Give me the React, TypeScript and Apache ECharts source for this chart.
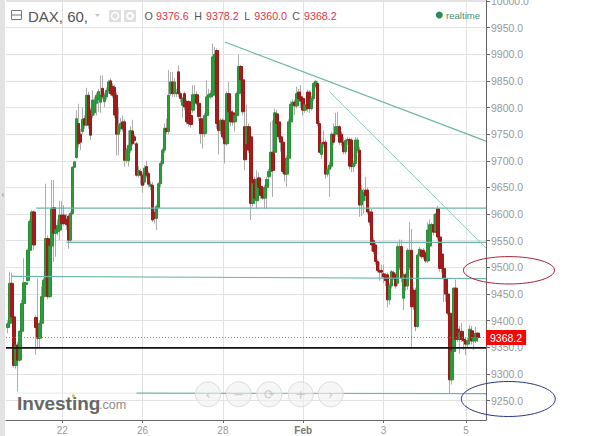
import React, { useEffect, useRef } from "react";
import * as echarts from "echarts";

const SLOT_COUNT = 240;
const tickSlots: Record<number, string> = { 28: "22", 68: "26", 108: "28", 148: "Feb", 188: "3", 229: "5" };

const opens = [
  9387,9395,9470,9407,9316,9354,9326,9380,9432,9468,
  9475,9532,9586,9604,9406,9388,9367,9395,9445,9476,
  9554,9445,9540,9612,9564,9567,9570,9598,9598,9590,
  9596,9551,9601,9688,9706,9770,9750,9755,9779,9767,
  9823,9795,9785,9790,9808,9815,9810,9836,9811,9820,
  9832,9850,9840,9838,9823,9750,9760,9773,9773,9701,
  9700,9720,9756,9745,9732,9673,9680,9673,9660,9689,
  9676,9652,9654,9603,9592,9612,9657,9695,9720,9761,
  9755,9826,9848,9826,9826,9867,9826,9804,9826,9811,
  9811,9785,9795,9815,9824,9808,9779,9770,9751,9785,
  9820,9820,9823,9887,9907,9770,9757,9776,9745,9732,
  9826,9792,9790,9773,9785,9826,9877,9852,9764,9732,
  9764,9745,9620,9665,9625,9668,9652,9648,9630,9650,
  9670,9680,9716,9716,9788,9773,9745,9735,9692,9675,
  9705,9773,9806,9810,9803,9829,9820,9817,9795,9829,
  9829,9798,9817,9840,9845,9770,9712,9735,9735,9675,
  9684,9690,9750,9750,9750,9764,9750,9735,9717,9738,
  9740,9739,9689,9695,9720,9720,9617,9625,9645,9645,
  9604,9604,9550,9542,9511,9494,9494,9488,9486,9486,
  9439,9465,9490,9486,9470,9500,9539,9442,9486,9465,
  9500,9532,9457,9457,9389,9523,9532,9532,9527,9512,
  9540,9570,9580,9568,9610,9557,9525,9498,9479,9450,
  9414,9289,9342,9461,9384,9365,9380,9365,9362,9356,
  9362,9381,9362,9362,9376.6,
];
const closes = [
  9394,9470,9407,9316,9354,9326,9380,9432,9471,9471,
  9532,9586,9604,9542,9387,9367,9395,9445,9476,9554,
  9445,9540,9610,9564,9571,9579,9598,9582,9582,9580,
  9551,9601,9688,9698,9779,9732,9735,9778,9767,9823,
  9767,9748,9814,9814,9823,9830,9823,9820,9823,9832,
  9848,9826,9823,9786,9750,9767,9770,9760,9701,9720,
  9729,9757,9732,9738,9673,9682,9673,9654,9686,9673,
  9656,9656,9589,9592,9614,9657,9695,9720,9761,9755,
  9823,9848,9826,9848,9828,9826,9817,9817,9801,9773,
  9770,9768,9824,9824,9808,9783,9751,9751,9785,9820,
  9824,9826,9895,9900,9770,9757,9776,9745,9732,9826,
  9792,9773,9773,9785,9826,9877,9852,9792,9702,9764,
  9720,9620,9658,9630,9665,9650,9635,9630,9650,9665,
  9680,9716,9682,9790,9770,9745,9735,9680,9675,9705,
  9773,9806,9810,9803,9826,9817,9812,9795,9805,9798,
  9798,9817,9845,9849,9770,9716,9732,9732,9675,9684,
  9692,9750,9735,9764,9764,9735,9735,9717,9738,9740,
  9690,9689,9695,9739,9739,9617,9645,9640,9635,9604,
  9585,9542,9530,9511,9494,9491,9491,9482,9475,9439,
  9465,9492,9480,9465,9539,9539,9480,9486,9465,9532,
  9532,9426,9426,9389,9523,9534,9520,9520,9512,9570,
  9580,9580,9566,9600,9557,9498,9498,9479,9450,9414,
  9289,9342,9461,9365,9365,9378,9365,9362,9356,9362,
  9384,9362,9368,9376,9368.2,
];
const lows = [
  9376,9390,9405,9312,9310,9267,9322,9376,9428,9466,
  9473,9530,9584,9532,9336,9348,9350,9393,9407,9472,
  9440,9443,9530,9510,9520,9560,9551,9575,9578,9570,
  9535,9548,9598,9686,9704,9725,9720,9750,9760,9764,
  9760,9739,9780,9785,9785,9792,9790,9815,9800,9815,
  9826,9822,9818,9780,9710,9710,9755,9755,9689,9695,
  9689,9715,9728,9730,9670,9668,9655,9640,9655,9668,
  9650,9645,9585,9582,9570,9610,9650,9690,9715,9750,
  9750,9822,9820,9820,9820,9820,9810,9781,9795,9768,
  9764,9762,9790,9810,9804,9775,9732,9723,9745,9780,
  9815,9816,9820,9884,9760,9712,9750,9740,9695,9728,
  9785,9765,9766,9755,9780,9820,9848,9785,9682,9725,
  9715,9589,9614,9620,9610,9640,9628,9626,9610,9610,
  9665,9676,9632,9710,9765,9740,9717,9676,9661,9651,
  9700,9770,9795,9786,9798,9810,9800,9785,9790,9792,
  9790,9794,9812,9836,9765,9714,9704,9725,9667,9670,
  9632,9686,9730,9745,9745,9730,9728,9712,9712,9730,
  9684,9679,9679,9690,9715,9595,9596,9600,9625,9600,
  9578,9530,9525,9505,9490,9475,9480,9470,9465,9425,
  9430,9460,9476,9460,9465,9495,9472,9420,9455,9458,
  9495,9347,9420,9380,9386,9520,9516,9515,9508,9508,
  9535,9565,9560,9564,9552,9492,9490,9435,9435,9410,
  9264,9280,9338,9360,9360,9338,9360,9345,9335,9350,
  9358,9355,9345,9358,9360,
];
const highs = [
  9400,9492,9490,9410,9358,9360,9382,9439,9517,9473,
  9535,9590,9607,9607,9410,9479,9400,9464,9480,9657,
  9560,9545,9664,9664,9576,9590,9625,9625,9617,9600,
  9600,9605,9690,9700,9795,9807,9760,9800,9785,9837,
  9830,9800,9832,9820,9828,9835,9860,9860,9828,9838,
  9852,9855,9845,9842,9828,9801,9780,9785,9778,9725,
  9757,9765,9777,9750,9736,9690,9685,9678,9692,9700,
  9680,9662,9660,9610,9618,9660,9700,9724,9770,9779,
  9870,9867,9867,9855,9835,9879,9830,9820,9830,9815,
  9814,9790,9842,9842,9830,9812,9783,9775,9790,9851,
  9835,9832,9920,9914,9911,9775,9780,9780,9750,9830,
  9848,9798,9795,9790,9830,9899,9880,9856,9814,9805,
  9770,9750,9682,9670,9682,9678,9660,9652,9655,9670,
  9685,9773,9776,9798,9796,9778,9750,9740,9696,9710,
  9778,9812,9815,9815,9839,9835,9842,9822,9810,9834,
  9833,9822,9848,9852,9850,9775,9736,9757,9740,9690,
  9698,9755,9770,9790,9792,9767,9755,9745,9742,9745,
  9744,9743,9700,9744,9744,9726,9655,9648,9670,9650,
  9610,9610,9556,9546,9515,9510,9505,9505,9490,9490,
  9470,9495,9494,9490,9545,9552,9552,9490,9490,9536,
  9585,9572,9462,9462,9526,9538,9535,9536,9530,9585,
  9590,9584,9600,9602,9615,9560,9530,9510,9484,9455,
  9418,9345,9462,9477,9425,9390,9395,9370,9368,9368,
  9392,9390,9372,9388,9378.2,
];

const lastPrice = 9368.2;
const upperTrend = [[109, 9923], [239, 9737]];
const lowerTrend = [[161, 9830], [239, 9536]];
const level9611 = [[15, 9611], [239, 9611]];
const level9547 = [[30, 9547], [239, 9547]];
const level9482 = [[3, 9483], [239, 9479]];
const level9263Faint = [[5, 9264], [65, 9264]];
const level9263 = [[65, 9264], [239, 9263]];
const level9349 = [[0, 9349], [239, 9349]];

const categories = Array.from({ length: SLOT_COUNT }, (_, i) => tickSlots[i] ?? String(i));
const isTick = (i: number) => tickSlots[i] !== undefined;
const FONT = "'Liberation Sans', Arial, sans-serif";
const UP = "#2b9e3c";
const UP_EDGE = "#2a8f38";
const DOWN = "#a31d1d";
const DOWN_EDGE = "#9a1a1a";
const TEAL = "#6db5a6";

const seg = (name: string, data: number[][], color: string, width = 1, z = 4) => ({
  name, type: "line", data, showSymbol: false, symbol: "none", silent: true, z,
  lineStyle: { color, width }, itemStyle: { color },
});

const hdrText = (x: number, text: string, fill: string, y = 16, fontSize = 10.7, extra: any = {}) => ({
  type: "text", x, y, z: 20, silent: true,
  style: { text, fill, fontSize, fontFamily: FONT, verticalAlign: "middle", ...extra },
});

const navCenters = [208, 238.7, 269.3, 300.7, 330.7];
const navGlyphs = ["‹", "−", "⟳", "+", "›"];

export default function App() {
  const ref = useRef<HTMLDivElement>(null);
  useEffect(() => {
    if (!ref.current) return;
    const chart = echarts.init(ref.current, undefined, { renderer: "svg" });
    const emptySlot = ["-", "-", "-", "-"];
    const wickData = [emptySlot, ...opens.map((_, i) => [opens[i], closes[i], lows[i], highs[i]])];
    const bodyData = [emptySlot, ...opens.map((_, i) => [
      opens[i], closes[i],
      Math.min(opens[i], closes[i]), Math.max(opens[i], closes[i]),
    ])];
    const grey = "#adadad";
    chart.setOption({
      animation: false,
      backgroundColor: "#fff",
      textStyle: { fontFamily: FONT },
      grid: { left: 6, right: 119, top: 0, bottom: 16, containLabel: false, outerBoundsMode: "none" },
      xAxis: {
        type: "category",
        data: categories,
        boundaryGap: false,
        axisLine: { show: true, lineStyle: { color: "#666", width: 1 } },
        axisTick: { show: true, length: 3, interval: (i: number) => isTick(i), lineStyle: { color: "#666" } },
        splitLine: { show: true, interval: (i: number) => isTick(i), lineStyle: { color: "#e2e2e2", width: 1 } },
        axisLabel: {
          interval: (i: number) => isTick(i),
          color: "#999",
          fontSize: 10,
          margin: 5,
          fontFamily: FONT,
          formatter: (v: string) => (v === "Feb" ? "{b|Feb}" : v),
          rich: { b: { fontSize: 10, fontWeight: "bold", color: "#777", fontFamily: FONT } },
        },
      },
      yAxis: {
        type: "value",
        position: "right",
        min: 9213.5,
        max: 10001.8,
        splitNumber: 16,
        axisLine: { show: true, lineStyle: { color: "#666", width: 1 } },
        axisTick: { show: true, length: 4, lineStyle: { color: "#666" } },
        splitLine: { show: true, lineStyle: { color: "#e2e2e2", width: 1 } },
        axisLabel: {
          color: "#999", fontSize: 10.5, margin: 5, fontFamily: FONT,
          showMinLabel: false, showMaxLabel: false,
          formatter: (v: number) => v.toFixed(1),
        },
      },
      series: [
        {
          name: "DAX range", type: "candlestick", data: wickData, barWidth: 1, z: 2, silent: true,
          itemStyle: { color: grey, color0: grey, borderColor: grey, borderColor0: grey, borderWidth: 1 },
        },
        {
          name: "DAX", type: "candlestick", data: bodyData, barWidth: 3, z: 3, silent: true,
          itemStyle: { color: UP, color0: DOWN, borderColor: UP_EDGE, borderColor0: DOWN_EDGE, borderWidth: 1 },
        },
        seg("upper trend", upperTrend, TEAL, 1.2),
        seg("lower trend", lowerTrend, "#8ccabd", 1),
        seg("level 9611", level9611, TEAL, 1.2),
        seg("level 9547", level9547, TEAL, 1.2),
        seg("level 9482", level9482, TEAL, 1.2),
        seg("level 9263 faint", level9263Faint, "#dcece8", 1),
        seg("level 9263", level9263, TEAL, 1.2),
        seg("level 9349", level9349, "#111", 1.8, 5),
        {
          name: "last", type: "line", showSymbol: false, symbol: "none", silent: true, z: 6,
          data: [[0, lastPrice], [239, lastPrice]],
          lineStyle: { color: "#ee5555", width: 1, type: [1, 2] },
          endLabel: {
            show: true, distance: 0, formatter: () => lastPrice.toFixed(1),
            color: "#fff", backgroundColor: "#f00a0a", fontSize: 10.5, fontFamily: FONT,
            padding: [2, 4, 2, 4],
          },
        },
      ],
      graphic: [
        { type: "rect", z: 20, silent: true, shape: { x: 0, y: 0, width: 5, height: 436 }, style: { fill: "#e3e3e3" } },
        { type: "polygon", z: 21, silent: true, shape: { points: [[3.5, 192.5], [3.5, 197.5], [1.5, 195]] }, style: { fill: "#aaa" } },
        // header
        { type: "rect", z: 20, silent: true, shape: { x: 11.5, y: 10.5, width: 10, height: 9 }, style: { fill: "none", stroke: "#777", lineWidth: 1 } },
        { type: "line", z: 20, silent: true, shape: { x1: 11.5, y1: 15, x2: 21.5, y2: 15 }, style: { stroke: "#777", lineWidth: 1 } },
        hdrText(28, "DAX, 60,", "#555", 16, 15),
        { type: "polygon", z: 20, silent: true, shape: { points: [[95, 14], [100, 14], [97.5, 17]] }, style: { fill: "#c4c4c4" } },
        { type: "rect", z: 20, silent: true, shape: { x: 109, y: 10, width: 12, height: 12 }, style: { fill: "#e0e0e0" } },
        { type: "circle", z: 21, silent: true, shape: { cx: 115, cy: 16, r: 3.5 }, style: { fill: "#e0e0e0", stroke: "#fff", lineWidth: 1.5 } },
        { type: "rect", z: 20, silent: true, shape: { x: 124, y: 10, width: 12, height: 12 }, style: { fill: "#e0e0e0" } },
        { type: "circle", z: 21, silent: true, shape: { cx: 130, cy: 16, r: 3 }, style: { fill: "#e0e0e0", stroke: "#fff", lineWidth: 2 } },
        hdrText(144.5, "O", "#555"),
        hdrText(156, "9376.6", "#e0344a"),
        hdrText(194.3, "H", "#555"),
        hdrText(206, "9378.2", "#e0344a"),
        hdrText(244.3, "L", "#555"),
        hdrText(254.3, "9360.0", "#e0344a"),
        hdrText(292.3, "C", "#555"),
        hdrText(304, "9368.2", "#e0344a"),
        // realtime
        { type: "circle", z: 20, silent: true, shape: { cx: 439.3, cy: 15, r: 3.5 }, style: { fill: "#2e8b57" } },
        hdrText(446, "realtime", "#4a9071", 15, 9.6),
        // annotation ellipses
        { type: "ellipse", z: 22, silent: true, shape: { cx: 509, cy: 270.3, rx: 45.6, ry: 13.7 }, style: { fill: "none", stroke: "#a3243a", lineWidth: 1 } },
        { type: "ellipse", z: 22, silent: true, shape: { cx: 508.3, cy: 399, rx: 47, ry: 17.5 }, style: { fill: "none", stroke: "#2a3585", lineWidth: 1 } },
        // watermark
        hdrText(17, "Investing", "#666", 403.5, 19, { fontWeight: "bold" }),
        hdrText(99, ".com", "#8a8a8a", 405, 12.5),
        { type: "circle", z: 21, silent: true, shape: { cx: 73.3, cy: 395.7, r: 1.5 }, style: { fill: "#f0b445" } },
        // navigation buttons
        ...navCenters.map((cx) => ({
          type: "circle", z: 18, silent: true, shape: { cx, cy: 394.3, r: 12.5 },
          style: { fill: "rgba(240,240,240,0.6)", stroke: "#dcdcdc", lineWidth: 1 },
        })),
        ...navCenters.map((cx, i) => ({
          type: "text", x: cx, y: 394.3, z: 19, silent: true,
          style: { text: navGlyphs[i], fill: "#c8c8c8", fontSize: 13, fontFamily: "'DejaVu Sans', sans-serif", align: "center", verticalAlign: "middle" },
        })),
      ],
    });
    return () => chart.dispose();
  }, []);
  return <div ref={ref} style={{ position: "fixed", left: 0, top: 0, width: 605, height: 436 }} />;
}
